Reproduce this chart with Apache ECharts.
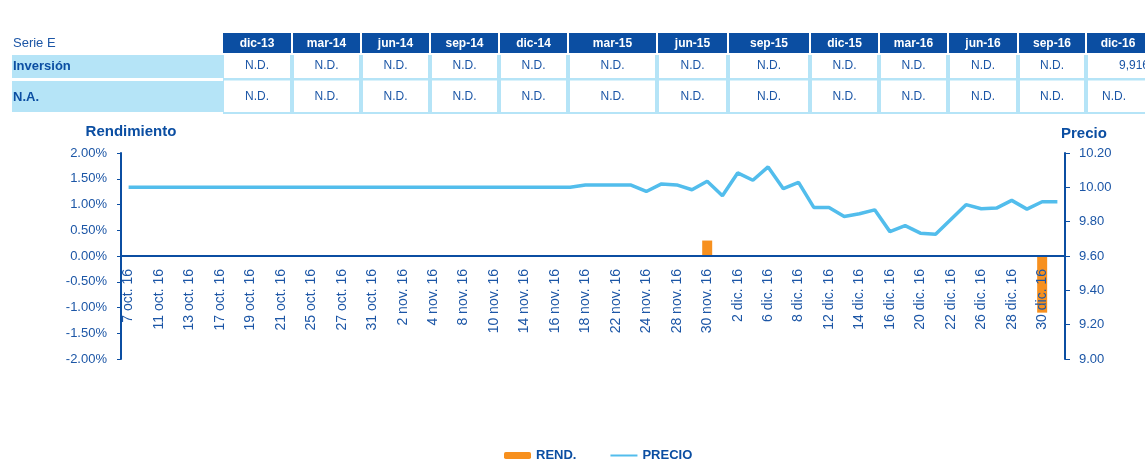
<!DOCTYPE html>
<html>
<head>
<meta charset="utf-8">
<script src="https://cdn.jsdelivr.net/npm/echarts@6/dist/echarts.min.js"></script>
<style>
  html, body { margin: 0; padding: 0; background: #fff; }
  #chart { width: 1145px; height: 461px; }
</style>
</head>
<body>
<div id="chart"></div>
<script>
// tabla superior
const tablaPeriodos = ['dic-13', 'mar-14', 'jun-14', 'sep-14', 'dic-14', 'mar-15', 'jun-15', 'sep-15', 'dic-15', 'mar-16', 'jun-16', 'sep-16', 'dic-16']
const tablaInversion = ['N.D.', 'N.D.', 'N.D.', 'N.D.', 'N.D.', 'N.D.', 'N.D.', 'N.D.', 'N.D.', 'N.D.', 'N.D.', 'N.D.', '9,916']
const tablaNA = ['N.D.', 'N.D.', 'N.D.', 'N.D.', 'N.D.', 'N.D.', 'N.D.', 'N.D.', 'N.D.', 'N.D.', 'N.D.', 'N.D.', 'N.D.']

// grafica
const fechas = [
  '7 oct. 16', '10 oct. 16', '11 oct. 16', '12 oct. 16', '13 oct. 16', '14 oct. 16', '17 oct. 16', '18 oct. 16',
  '19 oct. 16', '20 oct. 16', '21 oct. 16', '24 oct. 16', '25 oct. 16', '26 oct. 16', '27 oct. 16', '28 oct. 16',
  '31 oct. 16', '1 nov. 16', '2 nov. 16', '3 nov. 16', '4 nov. 16', '7 nov. 16', '8 nov. 16', '9 nov. 16',
  '10 nov. 16', '11 nov. 16', '14 nov. 16', '15 nov. 16', '16 nov. 16', '17 nov. 16', '18 nov. 16', '21 nov. 16',
  '22 nov. 16', '23 nov. 16', '24 nov. 16', '25 nov. 16', '28 nov. 16', '29 nov. 16', '30 nov. 16', '1 dic. 16',
  '2 dic. 16', '5 dic. 16', '6 dic. 16', '7 dic. 16', '8 dic. 16', '9 dic. 16', '12 dic. 16', '13 dic. 16',
  '14 dic. 16', '15 dic. 16', '16 dic. 16', '19 dic. 16', '20 dic. 16', '21 dic. 16', '22 dic. 16', '23 dic. 16',
  '26 dic. 16', '27 dic. 16', '28 dic. 16', '29 dic. 16', '30 dic. 16', '31 dic. 16'
]
const rendimiento = [
  0, 0, 0, 0, 0, 0, 0, 0, 0, 0, 0, 0, 0, 0, 0, 0,
  0, 0, 0, 0, 0, 0, 0, 0, 0, 0, 0, 0, 0, 0, 0, 0,
  0, 0, 0, 0, 0, 0, 0.30, 0, 0, 0, 0, 0, 0, 0, 0, 0,
  0, 0, 0, 0, 0, 0, 0, 0, 0, 0, 0, 0, -1.10, 0
]
const precio = [
  10.00, 10.00, 10.00, 10.00, 10.00, 10.00, 10.00, 10.00, 10.00, 10.00, 10.00, 10.00, 10.00, 10.00, 10.00, 10.00,
  10.00, 10.00, 10.00, 10.00, 10.00, 10.00, 10.00, 10.00, 10.00, 10.00, 10.00, 10.00, 10.00, 10.00, 10.013, 10.013,
  10.013, 10.013, 9.976, 10.02, 10.014, 9.986, 10.035, 9.951, 10.084, 10.041, 10.119, 9.992, 10.029, 9.883,
  9.883, 9.83, 9.846, 9.869, 9.742, 9.777, 9.733, 9.727, 9.813, 9.899, 9.875, 9.879, 9.924, 9.873, 9.916, 9.916
]

const azul = '#0b4ea2'
const azulTexto = '#1c56a6'
const celeste = '#b5e4f7'
const fuente = "'Liberation Sans', Arial, sans-serif"

// posiciones de columnas de la tabla
const colInicio = [223, 293, 362, 431, 500, 569, 658, 729, 811, 880, 949, 1019, 1087, 1151]

function armarTabla() {
  const els = []
  els.push({ type: 'text', style: { x: 13, y: 43, text: 'Serie E', align: 'left', verticalAlign: 'middle', font: '13px ' + fuente, fill: azulTexto } })
  // fondo celeste de las filas
  els.push({ type: 'rect', shape: { x: 12, y: 55, width: 211, height: 23 }, style: { fill: celeste } })
  els.push({ type: 'rect', shape: { x: 12, y: 81, width: 211, height: 31 }, style: { fill: celeste } })
  els.push({ type: 'rect', shape: { x: 223, y: 55, width: 940, height: 59 }, style: { fill: celeste } })
  els.push({ type: 'text', style: { x: 13, y: 66, text: 'Inversión', align: 'left', verticalAlign: 'middle', font: 'bold 13px ' + fuente, fill: azul } })
  els.push({ type: 'text', style: { x: 13, y: 97, text: 'N.A.', align: 'left', verticalAlign: 'middle', font: 'bold 13px ' + fuente, fill: azul } })
  tablaPeriodos.forEach((p, i) => {
    const x0 = colInicio[i]
    const x1 = colInicio[i + 1] - 2
    const cx = (x0 + x1) / 2
    const ultima = i === tablaPeriodos.length - 1
    els.push({ type: 'rect', shape: { x: x0, y: 33, width: x1 - x0, height: 20 }, style: { fill: azul } })
    els.push({ type: 'text', style: { x: cx, y: 43.5, text: p, align: 'center', verticalAlign: 'middle', font: 'bold 12px ' + fuente, fill: '#fff' } })
    els.push({ type: 'rect', shape: { x: x0 + 1, y: 55, width: x1 - x0 - 2 + (ultima ? 20 : 0), height: 23 }, style: { fill: '#fff' } })
    els.push({ type: 'rect', shape: { x: x0 + 1, y: 80.5, width: x1 - x0 - 2 + (ultima ? 20 : 0), height: 31.5 }, style: { fill: '#fff' } })
    els.push({ type: 'text', style: { x: ultima ? 1149 : cx, y: 66, text: tablaInversion[i], align: ultima ? 'right' : 'center', verticalAlign: 'middle', font: '12px ' + fuente, fill: azulTexto } })
    els.push({ type: 'text', style: { x: ultima ? 1114 : cx, y: 97, text: tablaNA[i], align: 'center', verticalAlign: 'middle', font: '12px ' + fuente, fill: azulTexto } })
  })
  return els
}

const option = {
  animation: false,
  textStyle: { fontFamily: fuente },
  graphic: { elements: armarTabla() },
  legend: {
    data: [
      { name: 'REND.' },
      // sin el circulo en el icono de la linea
      { name: 'PRECIO', itemStyle: { color: 'rgba(0,0,0,0)', borderColor: 'rgba(0,0,0,0)', borderWidth: 0 } }
    ],
    left: 499,
    top: 444,
    itemWidth: 27,
    itemHeight: 7,
    itemGap: 33,
    lineStyle: { width: 2 },
    textStyle: { color: azul, fontWeight: 'bold', fontSize: 13, fontFamily: fuente }
  },
  grid: {
    left: 121,
    right: 80,
    top: 153,
    bottom: 102,
    containLabel: false
  },
  xAxis: {
    type: 'category',
    data: fechas,
    z: 5,
    // el eje va en el cero del eje izquierdo
    offset: -103,
    axisLine: { onZero: false, lineStyle: { color: azul, width: 2 } },
    axisTick: { interval: 0, length: 4, lineStyle: { color: '#3f6fb5' } },
    axisLabel: { interval: 1, rotate: 90, margin: 13, fontSize: 14, color: azulTexto, fontFamily: fuente },
    splitLine: { show: false }
  },
  yAxis: [
    {
      type: 'value',
      min: -2,
      max: 2,
      interval: 0.5,
      name: 'Rendimiento',
      nameLocation: 'end',
      nameGap: 14,
      nameTextStyle: { color: azul, fontWeight: 'bold', fontSize: 15, align: 'center', padding: [0, 0, 0, 20], fontFamily: fuente },
      axisLine: { show: true, lineStyle: { color: azul, width: 2 } },
      axisTick: { show: true, length: 4, lineStyle: { color: azul } },
      axisLabel: { margin: 14, fontSize: 13, color: azulTexto, fontFamily: fuente, formatter: v => v.toFixed(2) + '%' },
      splitLine: { show: false }
    },
    {
      type: 'value',
      min: 9,
      max: 10.2,
      interval: 0.2,
      name: 'Precio',
      nameLocation: 'end',
      nameGap: 12,
      nameTextStyle: { color: azul, fontWeight: 'bold', fontSize: 15, align: 'left', padding: [0, 0, 0, -4], fontFamily: fuente },
      axisLine: { show: true, lineStyle: { color: azul, width: 2 } },
      axisTick: { show: true, length: 5, lineStyle: { color: azul } },
      axisLabel: { margin: 14, fontSize: 13, color: azulTexto, fontFamily: fuente, formatter: v => v.toFixed(2) },
      splitLine: { show: false }
    }
  ],
  series: [
    {
      name: 'REND.',
      type: 'bar',
      yAxisIndex: 0,
      barWidth: 10,
      data: rendimiento,
      itemStyle: { color: '#f7901e' }
    },
    {
      name: 'PRECIO',
      type: 'line',
      yAxisIndex: 1,
      data: precio,
      symbol: 'none',
      lineStyle: { color: '#52bdec', width: 3.5 },
      itemStyle: { color: '#52bdec' }
    }
  ]
}

const myChart = echarts.init(document.getElementById('chart'))
myChart.setOption(option)
</script>
</body>
</html>
